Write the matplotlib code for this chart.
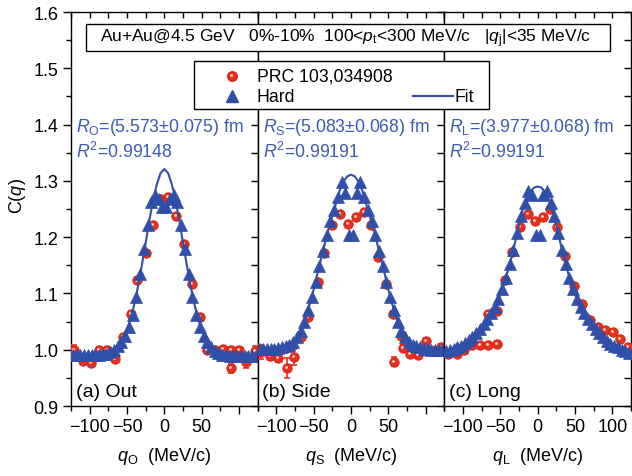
import numpy as np
import matplotlib
matplotlib.use("Agg")
import matplotlib.pyplot as plt
import matplotlib.transforms as mtransforms
from matplotlib.lines import Line2D
from matplotlib.patches import Rectangle
from matplotlib.ticker import MultipleLocator, FixedLocator, FuncFormatter

plt.rcParams['font.family'] = ['Liberation Sans', 'DejaVu Sans']
plt.rcParams['mathtext.fontset'] = 'custom'
plt.rcParams['mathtext.rm'] = 'Liberation Sans'
plt.rcParams['mathtext.it'] = 'Liberation Sans:italic'

# ---------------- data ----------------
panel_names = ["(a) Out", "(b) Side", "(c) Long"]
xlabels = [r"$q_{\rm O}$  (MeV/c)", r"$q_{\rm S}$  (MeV/c)", r"$q_{\rm L}$  (MeV/c)"]
radius_texts = [r"$R_{\rm O}$=(5.573±0.075) fm", r"$R_{\rm S}$=(5.083±0.068) fm", r"$R_{\rm L}$=(3.977±0.068) fm"]
r2_texts = [r"$R^2$=0.99148", r"$R^2$=0.99191", r"$R^2$=0.99191"]

q_hard = [-122.5, -117.5, -112.5, -107.5, -102.5, -97.5, -92.5, -87.5, -82.5, -77.5, -72.5, -67.5,
          -62.5, -57.5, -52.5, -47.5, -42.5, -37.5, -32.5, -27.5, -22.5, -17.5, -12.5, -7.5, -2.5,
          2.5, 7.5, 12.5, 17.5, 22.5, 27.5, 32.5, 37.5, 42.5, 47.5, 52.5, 57.5, 62.5, 67.5, 72.5,
          77.5, 82.5, 87.5, 92.5, 97.5, 102.5, 107.5, 112.5, 117.5, 122.5]
c_hard_out = [0.991, 0.991, 0.991, 0.991, 0.991, 0.991, 0.991, 0.991, 0.992, 0.993, 0.996, 1.000,
              1.006, 1.014, 1.025, 1.040, 1.062, 1.094, 1.135, 1.179, 1.221, 1.262, 1.275, 1.268, 1.254,
              1.254, 1.268, 1.275, 1.262, 1.221, 1.179, 1.135, 1.094, 1.062, 1.040, 1.025, 1.014, 1.004, 0.998, 0.994,
              0.991, 0.990, 0.989, 0.989, 0.989, 0.989, 0.989, 0.989, 0.989, 0.989]
c_hard_side = [1.002, 1.002, 1.002, 1.002, 1.002, 1.003, 1.004, 1.007, 1.009, 1.014, 1.022, 1.033,
               1.049, 1.070, 1.094, 1.121, 1.149, 1.175, 1.203, 1.228, 1.248, 1.272, 1.298, 1.278, 1.203,
               1.203, 1.278, 1.298, 1.272, 1.248, 1.228, 1.203, 1.175, 1.149, 1.121, 1.094, 1.070, 1.049, 1.033, 1.022,
               1.014, 1.009, 1.006, 1.004, 1.002, 1.001, 1.000, 1.000, 1.000, 1.000]
c_hard_long = [0.997, 0.999, 1.001, 1.004, 1.007, 1.012, 1.017, 1.023, 1.029, 1.036, 1.046, 1.055,
               1.065, 1.076, 1.090, 1.107, 1.128, 1.152, 1.177, 1.207, 1.237, 1.260, 1.282, 1.275, 1.203,
               1.203, 1.275, 1.282, 1.260, 1.237, 1.207, 1.177, 1.152, 1.128, 1.107, 1.090, 1.076, 1.065, 1.055, 1.045,
               1.036, 1.029, 1.022, 1.016, 1.011, 1.007, 1.004, 1.000, 0.998, 0.995]

q_fit = [-125, -115, -105, -95, -85, -80, -75, -70, -65, -60, -55, -50, -45, -40, -35, -30, -25, -20,
         -15, -10, -5, 0, 5, 10, 15, 20, 25, 30, 35, 40, 45, 50, 55, 60, 65, 70, 75, 80, 85, 95, 105, 115, 125]
c_fit_out = [0.990, 0.990, 0.990, 0.990, 0.991, 0.992, 0.994, 0.997, 1.001, 1.009, 1.020, 1.035, 1.056,
             1.082, 1.114, 1.151, 1.190, 1.230, 1.266, 1.294, 1.314, 1.321, 1.314, 1.294, 1.266, 1.230,
             1.190, 1.151, 1.114, 1.082, 1.056, 1.035, 1.020, 1.009, 1.001, 0.997, 0.994, 0.992, 0.991,
             0.990, 0.990, 0.990, 0.990]
c_fit_side = [1.001, 1.001, 1.002, 1.004, 1.008, 1.011, 1.017, 1.027, 1.040, 1.059, 1.082, 1.107, 1.135,
              1.162, 1.189, 1.215, 1.238, 1.260, 1.283, 1.299, 1.308, 1.311, 1.308, 1.299, 1.283, 1.260,
              1.238, 1.215, 1.189, 1.162, 1.135, 1.107, 1.082, 1.059, 1.040, 1.027, 1.017, 1.011, 1.008,
              1.004, 1.002, 1.001, 1.001]
c_fit_long = [0.997, 1.000, 1.005, 1.014, 1.026, 1.032, 1.041, 1.050, 1.060, 1.070, 1.083, 1.098, 1.117,
              1.140, 1.165, 1.192, 1.222, 1.248, 1.267, 1.280, 1.288, 1.290, 1.288, 1.280, 1.267, 1.248,
              1.222, 1.192, 1.165, 1.140, 1.117, 1.098, 1.083, 1.070, 1.060, 1.050, 1.041, 1.032, 1.026,
              1.014, 1.005, 1.000, 0.997]

q_red_out = [-121, -109, -98, -87, -77, -66, -56, -45, -36, -25, -15.5, -5, 5, 15.5, 26.5, 36.5, 48,
             57, 68, 79, 89, 89, 100, 110, 121]
c_red_out = [1.000, 0.980, 0.977, 0.999, 1.000, 0.984, 1.022, 1.064, 1.123, 1.172, 1.222, 1.268,
             1.272, 1.237, 1.188, 1.117, 1.058, 0.999, 0.999, 1.001, 0.999, 0.967, 0.999, 0.978, 0.998]
e_red_out = [0.008, 0.005, 0.005, 0.005, 0.005, 0.005, 0.004, 0.004, 0.004, 0.004, 0.004, 0.004,
             0.004, 0.004, 0.004, 0.004, 0.004, 0.005, 0.005, 0.005, 0.005, 0.008, 0.006, 0.010, 0.008]

q_red_side = [-120, -109, -98, -86, -77, -66.5, -57.5, -44, -35.5, -26, -15, -4, 7, 17.5, 27, 36,
              47, 56.5, 57.5, 67.5, 70, 79, 90, 100, 110, 121]
c_red_side = [0.996, 0.988, 0.985, 0.968, 0.987, 1.022, 1.058, 1.120, 1.171, 1.221, 1.242, 1.224,
              1.236, 1.245, 1.221, 1.165, 1.117, 1.064, 0.979, 1.025, 1.003, 0.992, 0.991, 1.015, 0.998, 1.005]
e_red_side = [0.012, 0.006, 0.006, 0.018, 0.014, 0.005, 0.004, 0.004, 0.004, 0.004, 0.004, 0.004,
              0.004, 0.004, 0.004, 0.004, 0.004, 0.004, 0.008, 0.005, 0.005, 0.005, 0.005, 0.006, 0.006, 0.006]

q_red_long = [-120, -108.5, -99, -88.5, -77, -66, -55, -66, -55, -44, -35, -24, -12.5, -3.5, 7.5,
              16.5, 25.5, 36.5, 48, 59, 70, 81, 90, 101, 110, 121]
c_red_long = [0.992, 0.992, 1.000, 1.008, 1.008, 1.008, 1.011, 1.063, 1.069, 1.123, 1.173, 1.218,
              1.241, 1.229, 1.235, 1.250, 1.218, 1.167, 1.114, 1.081, 1.052, 1.040, 1.035, 1.031, 1.019, 1.005]
e_red_long = [0.005, 0.005, 0.005, 0.004, 0.004, 0.004, 0.004, 0.004, 0.004, 0.004, 0.004, 0.004,
              0.004, 0.004, 0.004, 0.004, 0.004, 0.004, 0.004, 0.004, 0.004, 0.004, 0.004, 0.005, 0.005, 0.005]

q_red_all = [q_red_out, q_red_side, q_red_long]
c_red_all = [c_red_out, c_red_side, c_red_long]
e_red_all = [e_red_out, e_red_side, e_red_long]
c_hard_all = [c_hard_out, c_hard_side, c_hard_long]
c_fit_all = [c_fit_out, c_fit_side, c_fit_long]

header = r"Au+Au@4.5 GeV   0%-10%  100<$p_{\rm t}$<300 MeV/c   |$q_{\rm j}$|<35 MeV/c"
legend_labels = ["PRC 103,034908", "Hard", "Fit"]

# ---------------- style ----------------
BLUE = '#2f4fa8'
TXTBLUE = '#3a5ab4'
RED = '#e8301e'
W, H = 632, 477
fig = plt.figure(figsize=(W / 100, H / 100), dpi=100)

def fx(px):
    return px / W

def fy(py):
    return (H - py) / H

left_px, right_px, top_px, bot_px = 71, 631, 13, 407
pw = (right_px - left_px) / 3
axes = []
for i in range(3):
    ax = fig.add_axes([fx(left_px + i * pw), fy(bot_px), pw / W, (bot_px - top_px) / H])
    axes.append(ax)

TICK_FS = 13
for i, ax in enumerate(axes):
    ax.set_xlim(-125, 125)
    ax.set_ylim(0.9, 1.6)
    # data
    ax.errorbar(q_red_all[i], c_red_all[i], yerr=e_red_all[i], fmt='none', ecolor=RED,
                elinewidth=1.2, capsize=2.5, capthick=1.2, zorder=3)
    ax.plot(q_red_all[i], c_red_all[i], 'o', ms=6.8, mfc=RED, mec='#d02010', mew=0.6, zorder=4)
    hl = mtransforms.offset_copy(ax.transData, fig=fig, x=-0.7, y=0.7, units='points')
    ax.plot(q_red_all[i], c_red_all[i], 'o', ms=2.0, mfc='#ffd8d0', mec='none', transform=hl, zorder=5)
    ax.plot(q_hard, c_hard_all[i], '^', ms=8.5, mfc=BLUE, mec=BLUE, mew=0.5, zorder=6)
    ax.plot(q_fit, c_fit_all[i], '-', color=BLUE, lw=1.5, zorder=7)

    # ticks
    ax.xaxis.set_major_locator(FixedLocator([-100, -50, 0, 50, 100]))
    ax.xaxis.set_minor_locator(FixedLocator([-125, -75, -25, 25, 75, 125]))
    ax.yaxis.set_major_locator(MultipleLocator(0.1))
    ax.yaxis.set_minor_locator(MultipleLocator(0.05))
    if i < 2:
        ax.xaxis.set_major_formatter(FuncFormatter(lambda v, p: '' if v > 75 else f"{v:.0f}".replace('-', '\u2212')))
    else:
        ax.xaxis.set_major_formatter(FuncFormatter(lambda v, p: f"{v:.0f}".replace('-', '\u2212')))
    ax.tick_params(axis='x', which='both', bottom=True, top=False, direction='out', labelsize=TICK_FS, pad=3)
    ax.tick_params(axis='x', which='major', length=6, width=1)
    ax.tick_params(axis='x', which='minor', length=3.5, width=1)
    ax.tick_params(axis='y', which='both', left=(i == 0), right=False, direction='out', labelsize=TICK_FS,
                   labelleft=(i == 0), pad=3)
    ax.tick_params(axis='y', which='major', length=6, width=1)
    ax.tick_params(axis='y', which='minor', length=3.5, width=1)
    ax.yaxis.set_major_formatter(FuncFormatter(lambda v, p: f"{v:.1f}"))
    axt = ax.secondary_xaxis('top')
    axt.xaxis.set_major_locator(FixedLocator([-100, -50, 0, 50, 100]))
    axt.xaxis.set_minor_locator(FixedLocator([-125, -75, -25, 25, 75, 125]))
    axt.tick_params(which='both', direction='in', length=4, width=1, labeltop=False)
    axr = ax.secondary_yaxis('right')
    axr.yaxis.set_major_locator(MultipleLocator(0.1))
    axr.yaxis.set_minor_locator(MultipleLocator(0.05))
    axr.tick_params(which='both', direction='in', length=5, width=1, labelright=False)
    for s in ax.spines.values():
        s.set_linewidth(1.0)
    for s in list(axt.spines.values()) + list(axr.spines.values()):
        s.set_visible(False)

    ax.set_xlabel(xlabels[i], fontsize=13, labelpad=7)
    ax.text(0.025, 0.038, panel_names[i], transform=ax.transAxes, fontsize=14, ha='left', va='center')
    ax.text(fx(76 + i * pw), fy(127), radius_texts[i], transform=fig.transFigure, fontsize=12.7,
            color=TXTBLUE, ha='left', va='center')
    ax.text(fx(76 + i * pw), fy(152), r2_texts[i], transform=fig.transFigure, fontsize=12.7,
            color=TXTBLUE, ha='left', va='center')

axes[0].set_ylabel(r"C($q$)", fontsize=13)
axes[0].yaxis.set_label_coords(-0.23, 0.536)

# header box
fig.add_artist(Rectangle((fx(86), fy(52)), (610 - 86) / W, 27 / H, transform=fig.transFigure,
                         fc='white', ec='black', lw=1.0, zorder=20))
fig.text(fx(346), fy(38.5), header, fontsize=12.5, ha='center', va='center', zorder=21)

# legend (manual)
fig.add_artist(Rectangle((fx(194), fy(110)), (489 - 194) / W, 48 / H, transform=fig.transFigure,
                         fc='white', ec='black', lw=1.0, zorder=20))
fig.add_artist(Line2D([fx(232)], [fy(77)], marker='o', ls='none', ms=6.8, mfc=RED, mec='#d02010',
                      transform=fig.transFigure, zorder=21))
fig.add_artist(Line2D([fx(231.3)], [fy(76.3)], marker='o', ls='none', ms=2.0, mfc='#ffd8d0', mec='none',
                      transform=fig.transFigure, zorder=22))
fig.add_artist(Line2D([fx(232)], [fy(97)], marker='^', ls='none', ms=8.5, mfc=BLUE, mec=BLUE,
                      transform=fig.transFigure, zorder=21))
fig.add_artist(Line2D([fx(413), fx(453)], [fy(97), fy(97)], color=BLUE, lw=1.5,
                      transform=fig.transFigure, zorder=21))
fig.text(fx(257), fy(77), legend_labels[0], fontsize=12.7, ha='left', va='center', zorder=22)
fig.text(fx(257), fy(98), legend_labels[1], fontsize=12.7, ha='left', va='center', zorder=22)
fig.text(fx(455), fy(98), legend_labels[2], fontsize=12.7, ha='left', va='center', zorder=22)

fig.savefig("out.png", dpi=100)
